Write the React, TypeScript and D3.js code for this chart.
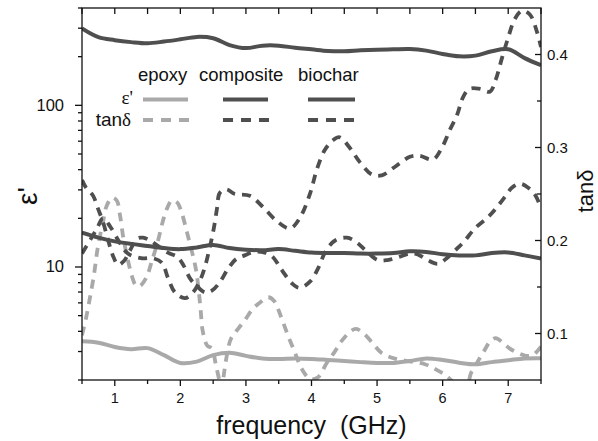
import { useEffect, useRef } from 'react';
import * as d3 from 'd3';

// frequency grid (GHz) for the permittivity curves
const FREQ = [
  0.5, 0.75, 1, 1.25, 1.5, 1.75, 2, 2.25, 2.5, 2.75, 3, 3.25, 3.5, 3.75, 4,
  4.25, 4.5, 4.75, 5, 5.25, 5.5, 5.75, 6, 6.25, 6.5, 6.75, 7, 7.25, 7.5,
];

// real permittivity
const EPS_EPOXY = [
  3.47, 3.4, 3.2, 3.1, 3.15, 2.85, 2.55, 2.6, 2.85, 2.95, 2.82, 2.72, 2.7, 2.72,
  2.7, 2.66, 2.62, 2.58, 2.55, 2.55, 2.62, 2.72, 2.66, 2.56, 2.5, 2.58, 2.65,
  2.72, 2.73,
];
const EPS_COMPOSITE = [
  16.3, 15.2, 14.4, 13.9, 13.5, 13.1, 12.9, 13.2, 13.7, 13.1, 12.8, 12.7, 12.9,
  12.6, 12.3, 12.2, 12.2, 12.1, 12.1, 12.2, 12.5, 12.4, 12.0, 11.8, 11.8, 12.2,
  12.3, 11.8, 11.3,
];
const EPS_BIOCHAR = [
  299, 264, 253, 246, 242, 248, 256, 265, 260, 236, 226, 234, 234, 227, 222,
  217, 216, 219, 221, 222, 223, 218, 208, 201, 203, 216, 222, 196, 177,
];

// loss tangent, each with its own frequency points
const TAN_EPOXY_F = [
  0.5, 0.56, 0.62, 0.68, 0.74, 0.82, 0.88, 0.96, 1.03, 1.08, 1.13, 1.2, 1.26,
  1.32, 1.38, 1.48, 1.57, 1.66, 1.73, 1.8, 1.87, 1.95, 2.02, 2.1, 2.18, 2.24,
  2.28, 2.31, 2.34, 2.41, 2.48, 2.54, 2.59, 2.63, 2.66, 2.7, 2.77, 2.88, 2.98,
  3.11, 3.21, 3.34, 3.43, 3.53, 3.64, 3.75, 3.85, 3.98, 4.1, 4.23, 4.36, 4.46,
  4.59, 4.68, 4.81, 4.94, 5.07, 5.27, 5.5, 5.73, 5.88, 6.03, 6.14, 6.26, 6.37,
  6.43, 6.52, 6.63, 6.72, 6.81, 6.92, 7.02, 7.15, 7.27, 7.38, 7.5,
];
const TAN_EPOXY = [
  0.098, 0.116, 0.138, 0.162, 0.192, 0.22, 0.238, 0.246, 0.243, 0.227, 0.203,
  0.179, 0.162, 0.152, 0.151, 0.16, 0.179, 0.2, 0.22, 0.235, 0.243, 0.241, 0.23,
  0.209, 0.187, 0.168, 0.146, 0.125, 0.103, 0.087, 0.084, 0.067, 0.051, 0.04,
  0.054, 0.073, 0.094, 0.105, 0.114, 0.127, 0.133, 0.139, 0.135, 0.119, 0.098,
  0.079, 0.062, 0.051, 0.053, 0.068, 0.081, 0.092, 0.102, 0.105, 0.099, 0.089,
  0.079, 0.073, 0.07, 0.067, 0.062, 0.056, 0.049, 0.04, 0.043, 0.057, 0.068,
  0.081, 0.091, 0.095, 0.09, 0.084, 0.079, 0.076, 0.077, 0.086,
];

const TAN_COMPOSITE_F = [
  0.5, 0.56, 0.67, 0.74, 0.82, 0.9, 0.97, 1.05, 1.14, 1.23, 1.34, 1.43, 1.54,
  1.64, 1.81, 1.96, 2.05, 2.15, 2.25, 2.38, 2.48, 2.6, 2.73, 2.85, 2.98, 3.14,
  3.29, 3.4, 3.55, 3.7, 3.82, 3.98, 4.1, 4.22, 4.36, 4.54, 4.69, 4.83, 5.01,
  5.16, 5.32, 5.5, 5.62, 5.77, 5.93, 6.08, 6.23, 6.34, 6.49, 6.69, 6.83, 6.95,
  7.06, 7.18, 7.3, 7.41, 7.5,
];
const TAN_COMPOSITE = [
  0.265, 0.257, 0.248, 0.235, 0.22, 0.2, 0.184, 0.174, 0.178, 0.189, 0.202,
  0.203, 0.2, 0.195, 0.187, 0.182, 0.173, 0.159, 0.151, 0.144, 0.146, 0.155,
  0.17, 0.18, 0.184, 0.188, 0.187, 0.183, 0.168, 0.154, 0.149, 0.156, 0.17,
  0.189, 0.2, 0.203, 0.198, 0.189, 0.179, 0.179, 0.182, 0.186, 0.185, 0.179,
  0.175, 0.182, 0.192, 0.2, 0.213, 0.225, 0.236, 0.247, 0.257, 0.261, 0.257,
  0.249, 0.235,
];

const TAN_BIOCHAR_F = [
  0.5, 0.62, 0.73, 0.82, 0.93, 1.08, 1.2, 1.4, 1.58, 1.72, 1.81, 1.92, 2.07,
  2.19, 2.3, 2.38, 2.45, 2.51, 2.56, 2.6, 2.7, 2.83, 3.06, 3.26, 3.47, 3.67,
  3.82, 3.98, 4.08, 4.2, 4.33, 4.43, 4.58, 4.74, 4.92, 5.07, 5.27, 5.5, 5.65,
  5.85, 5.99, 6.11, 6.22, 6.31, 6.41, 6.57, 6.72, 6.81, 6.9, 6.99, 7.1, 7.21,
  7.33, 7.44, 7.5,
];
const TAN_BIOCHAR = [
  0.186, 0.2, 0.213, 0.224, 0.215, 0.197, 0.186, 0.181, 0.181, 0.176, 0.16,
  0.144, 0.138, 0.144, 0.157, 0.173, 0.193, 0.213, 0.235, 0.251, 0.255, 0.25,
  0.248, 0.236, 0.221, 0.213, 0.224, 0.251, 0.276, 0.297, 0.308, 0.311, 0.3,
  0.284, 0.271, 0.27, 0.279, 0.29, 0.291, 0.287, 0.3, 0.319, 0.335, 0.354,
  0.363, 0.363, 0.36, 0.373, 0.395, 0.416, 0.438, 0.447, 0.443, 0.424, 0.408,
];

// axes
const X_DOMAIN = [0.5, 7.5];
const X_TICKS = [1, 2, 3, 4, 5, 6, 7];
const X_MINOR = [0.5, 1.5, 2.5, 3.5, 4.5, 5.5, 6.5, 7.5];
const EPS_DOMAIN = [2, 400];
const EPS_TICKS = [10, 100];
const TAN_DOMAIN = [0.05, 0.45];
const TAN_TICKS = [0.1, 0.2, 0.3, 0.4];
const TAN_MINOR = [0.15, 0.25, 0.35];

const SERIES_NAMES = ['epoxy', 'composite', 'biochar'];

const DARK = '#4f4f4f';
const LIGHT = '#a9a9a9';
const FONT = '"Liberation Sans", Arial, Helvetica, sans-serif';

export default function App() {
  const svgRef = useRef<SVGSVGElement>(null);

  useEffect(() => {
    if (!svgRef.current) return;
    const svg = d3.select(svgRef.current);
    svg.selectAll('*').remove();

    const left = 82;
    const right = 541;
    const top = 8;
    const bottom = 380;

    const x = d3.scaleLinear().domain(X_DOMAIN).range([left, right]);
    const yEps = d3.scaleLog().domain(EPS_DOMAIN).range([bottom, top]);
    const yTan = d3.scaleLinear().domain(TAN_DOMAIN).range([bottom, top]);

    svg
      .append('rect')
      .attr('width', 598)
      .attr('height', 441)
      .attr('fill', '#fff');

    svg
      .append('defs')
      .append('clipPath')
      .attr('id', 'plot-clip')
      .append('rect')
      .attr('x', left)
      .attr('y', top)
      .attr('width', right - left)
      .attr('height', bottom - top);

    const plot = svg.append('g').attr('clip-path', 'url(#plot-clip)');

    const epsLine = d3
      .line<number>()
      .x((_, i) => x(FREQ[i]))
      .y((d) => yEps(d))
      .curve(d3.curveCatmullRom.alpha(0.5));

    const tanLine = d3
      .line<[number, number]>()
      .x((d) => x(d[0]))
      .y((d) => yTan(d[1]))
      .curve(d3.curveCatmullRom.alpha(0.5));

    // loss tangent (dashed)
    const tanSeries: [number[], number[], string][] = [
      [TAN_EPOXY_F, TAN_EPOXY, LIGHT],
      [TAN_COMPOSITE_F, TAN_COMPOSITE, DARK],
      [TAN_BIOCHAR_F, TAN_BIOCHAR, DARK],
    ];
    tanSeries.forEach(([f, t, color]) => {
      plot
        .append('path')
        .attr('d', tanLine(d3.zip(f, t) as [number, number][]))
        .attr('fill', 'none')
        .attr('stroke', color)
        .attr('stroke-width', 3.8)
        .attr('stroke-dasharray', '9,7');
    });

    // permittivity (solid)
    const epsSeries: [number[], string][] = [
      [EPS_EPOXY, LIGHT],
      [EPS_COMPOSITE, DARK],
      [EPS_BIOCHAR, DARK],
    ];
    epsSeries.forEach(([vals, color]) => {
      plot
        .append('path')
        .attr('d', epsLine(vals))
        .attr('fill', 'none')
        .attr('stroke', color)
        .attr('stroke-width', 4);
    });

    // frame
    svg
      .append('rect')
      .attr('x', left)
      .attr('y', top)
      .attr('width', right - left)
      .attr('height', bottom - top)
      .attr('fill', 'none')
      .attr('stroke', '#111')
      .attr('stroke-width', 1.3);

    const ticks = svg
      .append('g')
      .attr('stroke', '#111')
      .attr('stroke-width', 1.3);

    // bottom (outward) and top (inward)
    [...X_TICKS, ...X_MINOR].forEach((v) => {
      const major = X_TICKS.includes(v);
      ticks
        .append('line')
        .attr('x1', x(v))
        .attr('x2', x(v))
        .attr('y1', bottom)
        .attr('y2', bottom + (major ? 6 : 4));
      ticks
        .append('line')
        .attr('x1', x(v))
        .attr('x2', x(v))
        .attr('y1', top)
        .attr('y2', top + 6);
    });

    // left log axis (outward)
    const epsMinor = yEps.ticks().filter((v) => !EPS_TICKS.includes(v));
    [...EPS_TICKS, ...epsMinor].forEach((v) => {
      const major = EPS_TICKS.includes(v);
      ticks
        .append('line')
        .attr('x1', left - (major ? 7 : 4))
        .attr('x2', left)
        .attr('y1', yEps(v))
        .attr('y2', yEps(v));
    });

    // right axis (inward)
    [...TAN_TICKS, ...TAN_MINOR].forEach((v) => {
      const major = TAN_TICKS.includes(v);
      ticks
        .append('line')
        .attr('x1', right - (major ? 6 : 4))
        .attr('x2', right)
        .attr('y1', yTan(v))
        .attr('y2', yTan(v));
    });

    const labels = svg
      .append('g')
      .attr('font-family', FONT)
      .attr('fill', '#111');

    X_TICKS.forEach((v) => {
      labels
        .append('text')
        .attr('x', x(v))
        .attr('y', 403)
        .attr('text-anchor', 'middle')
        .attr('font-size', 14.5)
        .text(d3.format('d')(v));
    });

    EPS_TICKS.forEach((v) => {
      labels
        .append('text')
        .attr('x', 64)
        .attr('y', yEps(v) + 5.5)
        .attr('text-anchor', 'end')
        .attr('font-size', 16.5)
        .text(d3.format('d')(v));
    });

    TAN_TICKS.forEach((v) => {
      labels
        .append('text')
        .attr('x', 547)
        .attr('y', yTan(v) + 5)
        .attr('font-size', 15)
        .text(d3.format('.1f')(v));
    });

    // axis titles
    labels
      .append('text')
      .attr('x', (left + right) / 2)
      .attr('y', 434)
      .attr('text-anchor', 'middle')
      .attr('font-size', 25)
      .attr('xml:space', 'preserve')
      .text('frequency  (GHz)');

    labels
      .append('text')
      .attr('transform', 'translate(37,196) rotate(-90)')
      .attr('text-anchor', 'middle')
      .attr('font-size', 28)
      .text("ε'");

    labels
      .append('text')
      .attr('transform', 'translate(593,191) rotate(-90)')
      .attr('text-anchor', 'middle')
      .attr('font-size', 22)
      .text('tanδ');

    // legend
    const legendX = [138, 199, 298];
    const legendLine: [number, number][] = [
      [143, 188],
      [223, 268],
      [308, 355],
    ];
    const legendColor = [LIGHT, DARK, DARK];
    SERIES_NAMES.forEach((name, i) => {
      labels
        .append('text')
        .attr('x', legendX[i])
        .attr('y', 81)
        .attr('font-size', 18.5)
        .text(name);
      svg
        .append('line')
        .attr('x1', legendLine[i][0])
        .attr('x2', legendLine[i][1])
        .attr('y1', 99.5)
        .attr('y2', 99.5)
        .attr('stroke', legendColor[i])
        .attr('stroke-width', 4.2);
      svg
        .append('line')
        .attr('x1', legendLine[i][0])
        .attr('x2', legendLine[i][1] + 2)
        .attr('y1', 120)
        .attr('y2', 120)
        .attr('stroke', legendColor[i])
        .attr('stroke-width', 4)
        .attr('stroke-dasharray', '10,8');
    });

    const epsLabel = labels
      .append('text')
      .attr('x', 133)
      .attr('y', 104)
      .attr('text-anchor', 'end')
      .attr('font-size', 19);
    epsLabel
      .append('tspan')
      .attr('font-family', '"Liberation Serif", "Times New Roman", serif')
      .text("ε'");

    const tanLabel = labels
      .append('text')
      .attr('x', 131)
      .attr('y', 126)
      .attr('text-anchor', 'end')
      .attr('font-size', 19);
    tanLabel.append('tspan').text('tan');
    tanLabel
      .append('tspan')
      .attr('font-family', '"Liberation Serif", "Times New Roman", serif')
      .text('δ');
  }, []);

  return (
    <div style={{ position: 'absolute', left: 0, top: 0 }}>
      <svg ref={svgRef} width={598} height={441} />
    </div>
  );
}
